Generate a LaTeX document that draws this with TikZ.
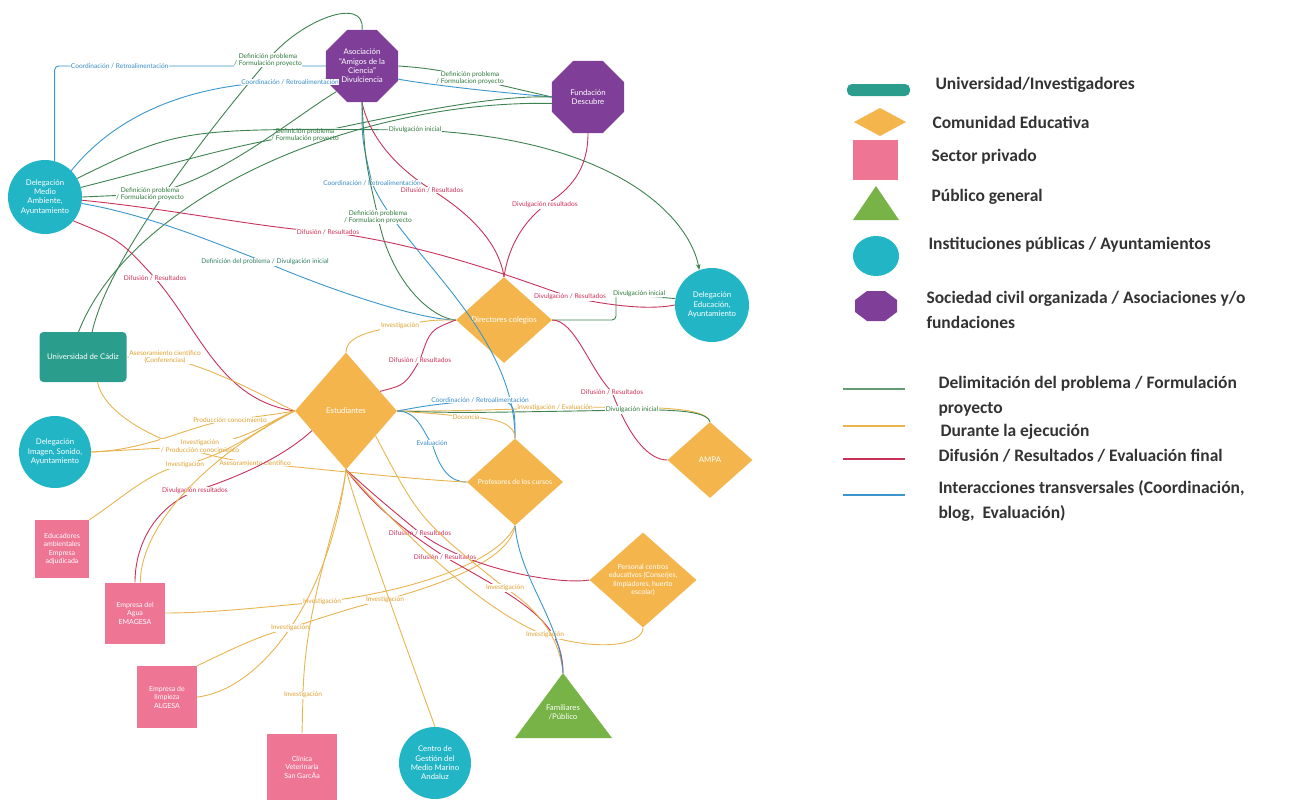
\documentclass[tikz,border=0pt]{standalone}
\usepackage{fontspec}
\setmainfont{Lato}
\newfontfamily\legfont{Carlito}
\usetikzlibrary{shapes.geometric,arrows.meta}
\definecolor{cyanc}{HTML}{22B5C6}
\definecolor{purplec}{HTML}{7F3F98}
\definecolor{orangec}{HTML}{F4B64C}
\definecolor{pinkc}{HTML}{EF7595}
\definecolor{tealc}{HTML}{2A9D8C}
\definecolor{pubg}{HTML}{77B347}
\definecolor{lgreen}{HTML}{3D8250}
\definecolor{lyellow}{HTML}{E8B450}
\definecolor{lred}{HTML}{C8325A}
\definecolor{lblue}{HTML}{3A96CD}
\definecolor{tgreen}{HTML}{2F7A3C}
\definecolor{tyellow}{HTML}{E0A030}
\definecolor{tred}{HTML}{D0305A}
\definecolor{tblue}{HTML}{3A8CC8}
\definecolor{legtext}{HTML}{333333}
\begin{document}
\begin{tikzpicture}[
		x=1pt, y=-1pt,
		every node/.style={align=center, font=\fontsize{7.8}{9.3}\selectfont},
		intxt/.style={text=white},
		inst/.style={circle, fill=cyanc, text=white, minimum size=74pt, inner sep=0pt},
		asoc/.style={regular polygon, regular polygon sides=8, fill=purplec, text=white, minimum size=78pt, inner sep=0pt},
		edu/.style={diamond, fill=orangec, inner sep=0pt},
		priv/.style={rectangle, fill=pinkc, text=white, inner sep=0pt, font=\fontsize{7}{8.5}\selectfont},
		defl/.style={draw=lgreen, line width=0.9pt},
		durl/.style={draw=lyellow, line width=0.9pt},
		difl/.style={draw=lred, line width=0.9pt},
		intl/.style={draw=lblue, line width=0.9pt},
		lbl/.style={fill=white, inner sep=0.6pt, font=\fontsize{6.6}{7.6}\selectfont},
		defn/.style={lbl, text=tgreen},
		durn/.style={lbl, text=tyellow},
		difn/.style={lbl, text=tred},
		intn/.style={lbl, text=tblue},
		legend/.style={anchor=west, align=left, text=legtext, font=\legfont\bfseries\fontsize{17.5}{25}\selectfont}
	]
	\useasboundingbox (0,0) rectangle (1314,800);

	\node[asoc] (amigos) at (362,66) {Asociación\\``Amigos de la\\Ciencia''\\Divulciencia};
	\node[asoc] (descubre) at (588,97) {Fundación\\Descubre};
	\node[inst] (medamb) at (45,197) {Delegación\\Medio\\Ambiente,\\Ayuntamiento};
	\node[inst] (deledu) at (712,305) {Delegación\\Educación,\\Ayuntamiento};
	\node[inst, minimum size=72pt] (imagen) at (55,452) {Delegación\\Imagen, Sonido,\\Ayuntamiento};
	\node[inst, minimum size=72pt] (marino) at (435,763) {Centro de\\Gestión del\\Medio Marino\\Andaluz};
	\node[rectangle, rounded corners=4pt, fill=tealc, text=white, minimum width=87pt, minimum height=50pt] (uca) at (83,357) {Universidad de Cádiz};
	\node[edu, minimum width=96pt, minimum height=86pt, label={[intxt]center:Directores colegios}] (direct) at (504,320) {};
	\node[edu, minimum width=102pt, minimum height=117pt, label={[intxt]center:Estudiantes}] (estud) at (346,411) {};
	\node[edu, minimum width=85pt, minimum height=76pt, label={[intxt]center:AMPA}] (ampa) at (710,460) {};
	\node[edu, minimum width=96pt, minimum height=87pt, label={[intxt, font=\fontsize{7}{8.5}\selectfont]center:Profesores de los cursos}] (profes) at (515,482) {};
	\node[edu, minimum width=107pt, minimum height=95pt, label={[intxt, font=\fontsize{7}{8.5}\selectfont]center:{Personal centros\\educativos (Conserjes,\\limpiadores, huerto\\escolar)}}] (personal) at (643,580) {};
	\fill[pubg] (515,738) -- (563,673) -- (612,738) -- cycle;
	\node[intxt] (famil) at (563,712) {Familiares\\/Público};
	\coordinate (famtop) at (563,673);
	\node[priv, minimum width=54pt, minimum height=58pt] (educad) at (62,549) {Educadores\\ambientales\\Empresa\\adjudicada};
	\node[priv, minimum width=60pt, minimum height=61pt] (emagesa) at (135,613) {Empresa del\\Agua\\EMAGESA};
	\node[priv, minimum width=60pt, minimum height=62pt] (algesa) at (167,697) {Empresa de\\limpieza\\ALGESA};
	\node[priv, minimum width=70pt, minimum height=67pt] (clinica) at (302,767) {Clínica\\Veterinaria\\San GarcÃa};

	\draw[intl, rounded corners=4pt] (medamb.75) |- node[intn, pos=0.62] {Coordinación / Retroalimentación} (amigos.west);
	\draw[defl] (amigos.north) .. controls (366,-5) and (300,20) .. (268,60) node[defn] {Definición problema\\/ Formulación proyecto} .. controls (230,105) and (110,250) .. (uca.70);
	\draw[intl] (medamb.45) .. controls (120,110) and (200,82) .. (290,82) node[intn] {Coordinación / Retroalimentación} -- (amigos.200);
	\draw[defl] (amigos.east) .. controls (430,68) and (450,72) .. (470,78) node[defn] {Definición problema\\/ Formulacion proyecto} .. controls (500,85) and (530,92) .. (descubre.west);
	\draw[intl] (amigos.-20) .. controls (450,88) and (520,94) .. (descubre.west);
	\draw[defl] (medamb.15) .. controls (170,165) and (250,140) .. (305,135) node[defn] {Definición problema\\/ Formulación proyecto} .. controls (420,110) and (500,95) .. (descubre.west);
	\draw[defl] (uca.100) .. controls (130,200) and (350,100) .. (descubre.190);
	\draw[defl] (medamb.east) -- (150,194) node[defn] {Definición problema\\/ Formulación proyecto} .. controls (220,180) and (290,120) .. (amigos.225);
	\draw[defl, -{Stealth[length=6pt]}] (medamb.30) .. controls (180,128) .. (415,130) node[defn] {Divulgación inicial} .. controls (620,138) and (690,220) .. (deledu.110);
	\draw[difl] (amigos.south) .. controls (370,140) and (400,170) .. (432,190) node[difn] {Difusión / Resultados} .. controls (480,220) and (500,250) .. (direct.north);
	\draw[intl] (amigos.south) .. controls (362,140) .. (372,183) node[intn] {Coordinación / Retroalimentación} .. controls (400,250) and (515,330) .. (profes.north);
	\draw[defl] (amigos.south) .. controls (365,160) .. (378,217) node[defn] {Definición problema\\/ Formulacion proyecto} .. controls (390,280) and (430,318) .. (direct.west);
	\draw[difl] (descubre.south) .. controls (588,170) and (570,190) .. (545,205) node[difn] {Divulgación resultados} .. controls (520,225) and (508,250) .. (direct.north);
	\draw[difl] (medamb.-5) .. controls (180,210) and (260,228) .. (328,232) node[difn] {Difusión / Resultados} .. controls (430,245) and (520,280) .. (570,297) node[difn] {Divulgación / Resultados} .. controls (630,310) and (660,308) .. (deledu.west);
	\draw[defl, rounded corners=4pt] (direct.east) -- (616,320) -- (616,294) node[defn, anchor=west, xshift=-4pt] {Divulgación inicial} -- (deledu.170);
	\draw[intl] (medamb.-10) .. controls (150,215) and (220,245) .. (265,262) node[lbl, text=tgreen!70!tblue] {Definición del problema / Divulgación inicial} .. controls (330,290) and (420,320) .. (direct.west);
	\draw[difl] (medamb.-40) .. controls (120,240) .. (155,278) node[difn] {Difusión / Resultados} .. controls (200,330) and (220,400) .. (estud.west);
	\draw[durl] (direct.west) .. controls (430,320) .. (400,326) node[durn] {Investigación} .. controls (360,332) and (346,340) .. (estud.north);
	\draw[difl] (estud.30) .. controls (405,385) .. (420,360) node[difn] {Difusión / Resultados} .. controls (430,330) .. (direct.west);
	\draw[difl] (direct.east) .. controls (575,320) and (590,370) .. (612,392) node[difn] {Difusión / Resultados} .. controls (630,440) and (650,460) .. (ampa.west);
	\draw[durl] (estud.east) .. controls (450,411) .. (555,408) node[durn] {Investigación / Evaluación} .. controls (680,405) and (705,410) .. (ampa.north);
	\draw[defl] (estud.east) .. controls (460,413) .. (632,410) node[defn] {Divulgación inicial} .. controls (690,409) and (708,414) .. (ampa.north);
	\draw[intl] (estud.east) .. controls (430,405) .. (480,400) node[intn] {Coordinación / Retroalimentación} .. controls (515,400) .. (profes.north);
	\draw[durl] (estud.east) .. controls (440,414) .. (466,417) node[durn] {Docencia} .. controls (500,418) and (515,425) .. (profes.north);
	\draw[intl] (estud.east) .. controls (420,411) and (425,438) .. (432,443) node[intn] {Evaluación} .. controls (440,470) and (450,482) .. (profes.west);
	\draw[durl] (uca.east) -- (165,357) node[durn] {Asesoramiento científico\\(Conferencias)} .. controls (220,370) and (270,400) .. (estud.west);
	\draw[durl] (uca.-60) .. controls (105,420) and (180,455) .. (255,463) node[durn] {Asesoramiento científico} .. controls (350,472) and (420,480) .. (profes.west);
	\draw[durl] (imagen.east) .. controls (150,450) and (190,425) .. (230,420) node[durn] {Producción conocimiento} .. controls (270,415) .. (estud.west);
	\draw[durl] (imagen.east) -- (200,446) node[durn] {Investigación\\/ Producción conocimiento} .. controls (250,440) and (270,420) .. (estud.west);
	\draw[durl] (educad.north east) .. controls (120,500) and (150,470) .. (185,465) node[durn] {Investigación} .. controls (240,450) and (270,420) .. (estud.west);
	\draw[difl] (estud.-150) .. controls (280,460) and (230,480) .. (195,491) node[difn] {Divulgación resultados} .. controls (150,510) and (135,550) .. (emagesa.north);
	\draw[durl] (emagesa.80) .. controls (140,530) and (200,460) .. (estud.west);
	\draw[durl] (emagesa.east) .. controls (220,613) and (280,605) .. (322,602) node[durn] {Investigación} .. controls (420,590) and (500,560) .. (profes.south);
	\draw[durl] (algesa.east) .. controls (260,690) and (330,600) .. (estud.south);
	\draw[durl] (algesa.north east) .. controls (230,650) and (260,635) .. (290,628) node[durn] {Investigación} .. controls (330,615) and (360,605) .. (385,600) node[durn] {Investigación} .. controls (440,585) and (510,560) .. (profes.south);
	\draw[durl] (clinica.north) -- (303,695) node[durn] {Investigación} .. controls (305,600) and (340,520) .. (estud.south);
	\draw[durl] (marino.north) .. controls (400,630) and (360,520) .. (estud.south);
	\draw[difl] (estud.south) .. controls (380,500) .. (420,533) node[difn] {Difusión / Resultados} .. controls (470,570) and (560,585) .. (personal.west);
	\draw[difl] (estud.south) .. controls (380,515) and (420,540) .. (445,557) node[difn] {Difusión / Resultados} .. controls (520,600) and (563,620) .. (famtop);
	\draw[durl] (estud.south) .. controls (400,530) and (480,610) .. (545,635) node[durn] {Investigación} .. controls (600,652) and (643,645) .. (personal.south);
	\draw[durl] (estud.-40) .. controls (420,520) .. (505,588) node[durn] {Investigación} .. controls (540,610) and (560,640) .. (famtop);
	\draw[intl] (profes.south) .. controls (520,580) and (560,620) .. (famtop);

	\fill[tealc, rounded corners=5pt] (847,84) rectangle (910,96);
	\fill[orangec] (854,122) -- (880,108) -- (906,122) -- (880,136) -- cycle;
	\fill[pinkc] (853,140) rectangle (898,180);
	\fill[pubg] (853,220) -- (876,186) -- (899,220) -- cycle;
	\fill[cyanc] (876,256) ellipse [x radius=23pt, y radius=20pt];
	\fill[purplec] (897,300) -- (885,291) -- (867,291) -- (855,300) -- (855,312) -- (867,321) -- (885,321) -- (897,312) -- cycle;
	\draw[lgreen!80, line width=1.4pt] (843,389) -- (905,389);
	\draw[lyellow, line width=1.4pt] (843,426) -- (905,426);
	\draw[lred, line width=1.4pt] (843,459) -- (905,459);
	\draw[lblue, line width=1.4pt] (843,495) -- (905,495);
	\node[legend] (lg1) at (932,85) {Universidad/Investigadores};
	\node[legend] (lg2) at (929,122) {Comunidad Educativa};
	\node[legend] (lg3) at (928,157) {Sector privado};
	\node[legend] (lg4) at (928,197) {Público general};
	\node[legend] (lg5) at (925,245) {Instituciones públicas / Ayuntamientos};
	\node[legend] (lg6) at (923,310) {Sociedad civil organizada / Asociaciones y/o\\fundaciones};
	\node[legend] (lg7) at (935,396) {Delimitación del problema / Formulación\\proyecto};
	\node[legend] (lg8) at (937,432) {Durante la ejecución};
	\node[legend] (lg9) at (935,456) {Difusión / Resultados / Evaluación final};
	\node[legend] (lg10) at (935,501) {Interacciones transversales (Coordinación,\\blog,\ \ Evaluación)};
\end{tikzpicture}
\end{document}
